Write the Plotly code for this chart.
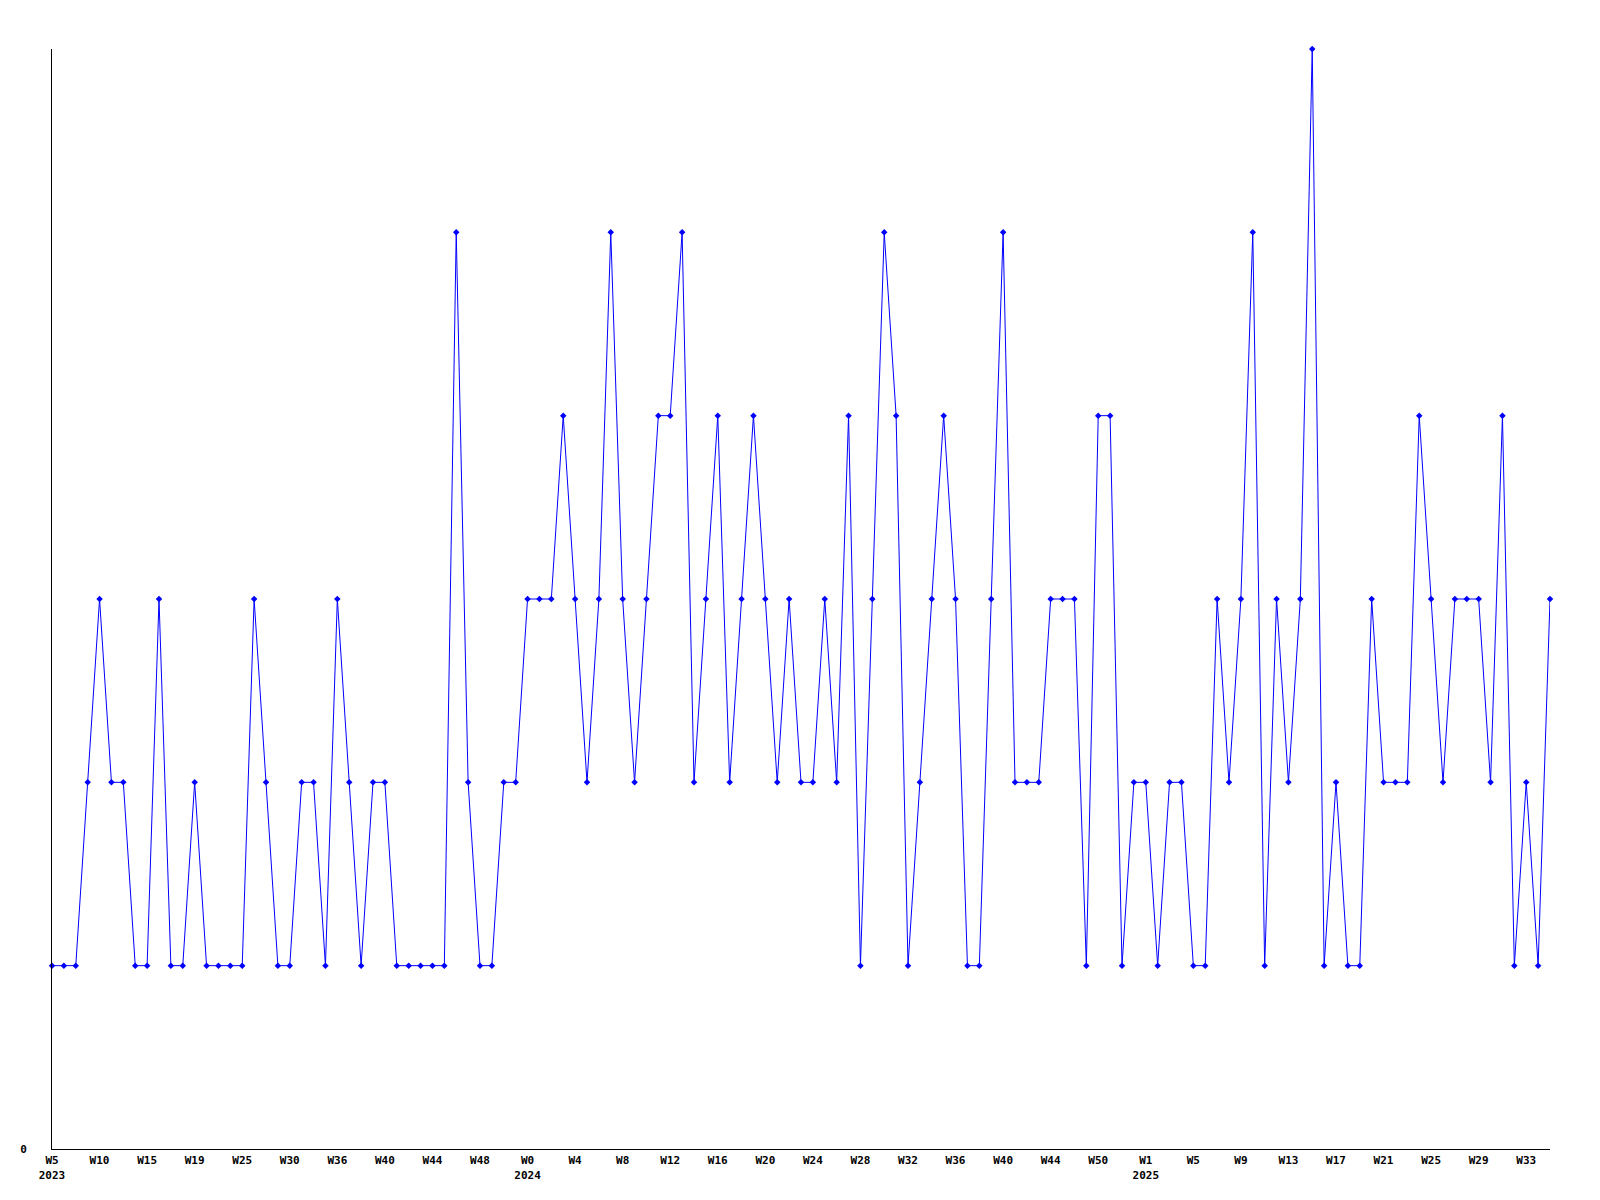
import plotly.graph_objects as go

values = [
    1, 1, 1, 2, 3, 2, 2, 1, 1, 3,
    1, 1, 2, 1, 1, 1, 1, 3, 2, 1,
    1, 2, 2, 1, 3, 2, 1, 2, 2, 1,
    1, 1, 1, 1, 5, 2, 1, 1, 2, 2,
    3, 3, 3, 4, 3, 2, 3, 5, 3, 2,
    3, 4, 4, 5, 2, 3, 4, 2, 3, 4,
    3, 2, 3, 2, 2, 3, 2, 4, 1, 3,
    5, 4, 1, 2, 3, 4, 3, 1, 1, 3,
    5, 2, 2, 2, 3, 3, 3, 1, 4, 4,
    1, 2, 2, 1, 2, 2, 1, 1, 3, 2,
    3, 5, 1, 3, 2, 3, 6, 1, 2, 1,
    1, 3, 2, 2, 2, 4, 3, 2, 3, 3,
    3, 2, 4, 1, 2, 1, 3,
]

tick_labels = [
    "W5<br>2023", "W10", "W15", "W19", "W25", "W30", "W36", "W40", "W44", "W48",
    "W0<br>2024", "W4", "W8", "W12", "W16", "W20", "W24", "W28", "W32", "W36",
    "W40", "W44", "W50", "W1<br>2025", "W5", "W9", "W13", "W17", "W21", "W25",
    "W29", "W33",
]
tick_step = 4

x = list(range(len(values)))
tickvals = [i * tick_step for i in range(len(tick_labels))]

font = dict(family="DejaVu Sans Mono", size=11, color="black", weight="bold")

fig = go.Figure()
fig.add_trace(go.Scatter(
    x=x, y=values, mode="lines+markers",
    line=dict(color="#0000FF", width=1),
    marker=dict(color="#0000FF", size=5, symbol="diamond"),
    cliponaxis=False,
    showlegend=False,
))

fig.update_layout(
    width=1600, height=1200,
    paper_bgcolor="white", plot_bgcolor="white",
    margin=dict(l=42, r=58, t=41, b=59),
    font=font,
)
fig.update_xaxes(
    range=[0, len(values) - 1],
    tickmode="array", tickvals=tickvals, ticktext=tick_labels,
    showgrid=False, zeroline=False,
    showline=True, linecolor="black", linewidth=1,
    ticks="", tickfont=font, ticklabelstandoff=1,
)
fig.update_yaxes(
    range=[0, 6],
    tickmode="array", tickvals=[0], ticktext=["0"],
    showgrid=False, zeroline=False,
    showline=True, linecolor="black", linewidth=1,
    ticks="", tickfont=font, ticklabelstandoff=22,
)

fig.write_html("out.html")
